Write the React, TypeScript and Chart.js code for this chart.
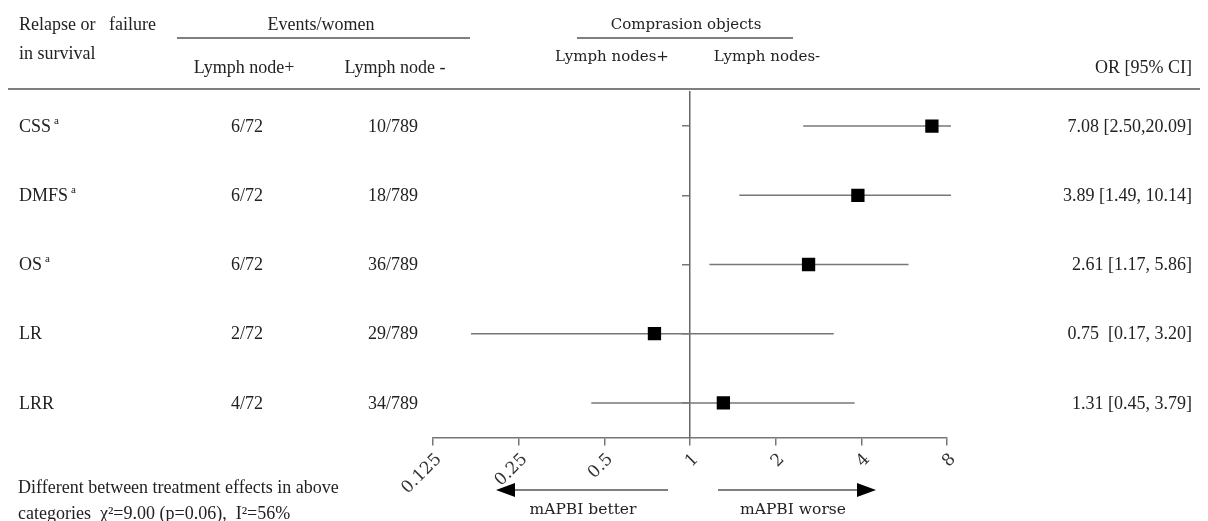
import React, { useEffect, useRef } from 'react';
import { Chart, registerables } from 'chart.js';

Chart.register(...registerables);

// ---- data ----
const outcomes = ['CSS', 'DMFS', 'OS', 'LR', 'LRR'];
const outcomeSup = ['a', 'a', 'a', '', ''];
const eventsNodePos = ['6/72', '6/72', '6/72', '2/72', '4/72'];
const eventsNodeNeg = ['10/789', '18/789', '36/789', '29/789', '34/789'];
const orValues = [7.08, 3.89, 2.61, 0.75, 1.31];
const ciLower = [2.5, 1.49, 1.17, 0.17, 0.45];
const ciUpper = [20.09, 10.14, 5.86, 3.2, 3.79];
const orLabels = [
  '7.08 [2.50,20.09]',
  '3.89 [1.49, 10.14]',
  '2.61 [1.17, 5.86]',
  '0.75  [0.17, 3.20]',
  '1.31 [0.45, 3.79]',
];
const xTicks = [0.125, 0.25, 0.5, 1, 2, 4, 8];

const SERIF = '"Liberation Serif", "Times New Roman", serif';
const ALT = '"DejaVu Serif", serif';

const textPlugin = {
  id: 'forestText',
  afterDraw(chart: any) {
    const ctx = chart.ctx as CanvasRenderingContext2D;
    const ys = chart.scales.y;
    ctx.save();
    ctx.fillStyle = '#222';
    ctx.textBaseline = 'middle';
    const txt = (s: string, x: number, y: number, align: CanvasTextAlign = 'left', font = `18px ${SERIF}`) => {
      ctx.font = font;
      ctx.textAlign = align;
      ctx.fillText(s, x, y);
    };
    const line = (x1: number, y1: number, x2: number, y2: number) => {
      ctx.beginPath();
      ctx.moveTo(x1, y1);
      ctx.lineTo(x2, y2);
      ctx.stroke();
    };
    // header
    txt('Relapse or', 19, 25);
    txt('failure', 109, 25);
    txt('in survival', 19, 54);
    txt('Events/women', 321, 25, 'center');
    txt('Lymph node+', 244, 68, 'center');
    txt('Lymph node -', 395, 68, 'center');
    txt('Comprasion objects', 686, 25, 'center', `15px ${ALT}`);
    txt('Lymph nodes+', 612, 57, 'center', `15px ${ALT}`);
    txt('Lymph nodes-', 767, 57, 'center', `15px ${ALT}`);
    txt('OR [95% CI]', 1192, 68, 'right');

    ctx.strokeStyle = '#555';
    ctx.lineWidth = 1.5;
    line(177, 38, 470, 38);
    line(577, 38, 793, 38);
    line(8, 89, 1200, 89);

    // rows
    outcomes.forEach((o, i) => {
      const y = ys.getPixelForValue(i) + 1;
      txt(o, 19, y);
      if (outcomeSup[i]) {
        ctx.font = `18px ${SERIF}`;
        const w = ctx.measureText(o).width;
        txt(outcomeSup[i], 19 + w + 3, y - 6, 'left', `11px ${SERIF}`);
      }
      txt(eventsNodePos[i], 247, y, 'center');
      txt(eventsNodeNeg[i], 393, y, 'center');
      txt(orLabels[i], 1192, y, 'right');
    });

    // arrows
    const ay = 490;
    ctx.strokeStyle = '#555';
    ctx.lineWidth = 1.5;
    line(668, ay, 510, ay);
    line(718, ay, 860, ay);
    ctx.fillStyle = '#000';
    ctx.beginPath();
    ctx.moveTo(496, ay);
    ctx.lineTo(515, ay - 7);
    ctx.lineTo(515, ay + 7);
    ctx.closePath();
    ctx.fill();
    ctx.beginPath();
    ctx.moveTo(876, ay);
    ctx.lineTo(857, ay - 7);
    ctx.lineTo(857, ay + 7);
    ctx.closePath();
    ctx.fill();
    ctx.fillStyle = '#222';
    txt('mAPBI better', 583, 510, 'center', `15.5px ${ALT}`);
    txt('mAPBI worse', 793, 510, 'center', `15.5px ${ALT}`);

    // footnote
    txt('Different between treatment effects in above', 18, 488);
    txt('categories  \u03C7\u00B2=9.00 (p=0.06),  I\u00B2=56%', 18, 514);
    ctx.restore();
  },
};

export default function App() {
  const ref = useRef<HTMLCanvasElement | null>(null);
  useEffect(() => {
    if (!ref.current) return;
    const ciDatasets = outcomes.map((_, i) => ({
      type: 'line' as const,
      data: [
        { x: ciLower[i], y: i },
        { x: ciUpper[i], y: i },
      ],
      borderColor: '#777',
      borderWidth: 1.5,
      pointRadius: 0,
      showLine: true,
      clip: { left: 0, right: 4, top: 0, bottom: 0 },
      order: 1,
    }));
    const chart = new Chart(ref.current, {
      type: 'scatter',
      data: {
        datasets: [
          {
            data: orValues.map((v, i) => ({ x: v, y: i })),
            pointStyle: 'rect',
            pointRadius: 9.4,
            pointHoverRadius: 9.4,
            backgroundColor: '#000',
            borderColor: '#000',
            borderWidth: 0,
            order: 0,
          } as any,
          ...ciDatasets,
        ],
      },
      options: {
        animation: false,
        responsive: false,
        events: [],
        layout: { padding: { left: 433, right: 261, top: 91.5, bottom: 83.5 } },
        plugins: { legend: { display: false }, tooltip: { enabled: false } },
        scales: {
          x: {
            type: 'logarithmic',
            min: 0.125,
            max: 8,
            position: { y: 4.5 } as any,
            afterBuildTicks: (axis: any) => {
              axis.ticks = xTicks.map((v) => ({ value: v }));
            },
            ticks: {
              autoSkip: false,
              minRotation: 45,
              maxRotation: 45,
              padding: 5,
              labelOffset: 6,
              color: '#333',
              font: { family: ALT, size: 17 },
              callback: (v: any) => String(v),
            },
            grid: { drawOnChartArea: false, drawTicks: true, tickLength: 7, color: '#777', lineWidth: 1.5 },
            border: { display: true, color: '#777', width: 1.5 },
          },
          y: {
            type: 'linear',
            min: -0.5,
            max: 4.5,
            reverse: true,
            position: { x: 1 } as any,
            afterBuildTicks: (axis: any) => {
              axis.ticks = outcomes.map((_, i) => ({ value: i }));
            },
            ticks: { display: false },
            grid: { drawOnChartArea: false, drawTicks: true, tickLength: 7, color: '#777', lineWidth: 1.5 },
            border: { display: true, color: '#666', width: 1.5 },
          },
        },
      } as any,
      plugins: [textPlugin],
    });
    return () => chart.destroy();
  }, []);
  return (
    <div style={{ position: 'fixed', left: 0, top: 0, width: 1208, height: 521, background: '#fff' }}>
      <canvas ref={ref} width={1208} height={521} style={{ width: 1208, height: 521, display: 'block' }} />
    </div>
  );
}
